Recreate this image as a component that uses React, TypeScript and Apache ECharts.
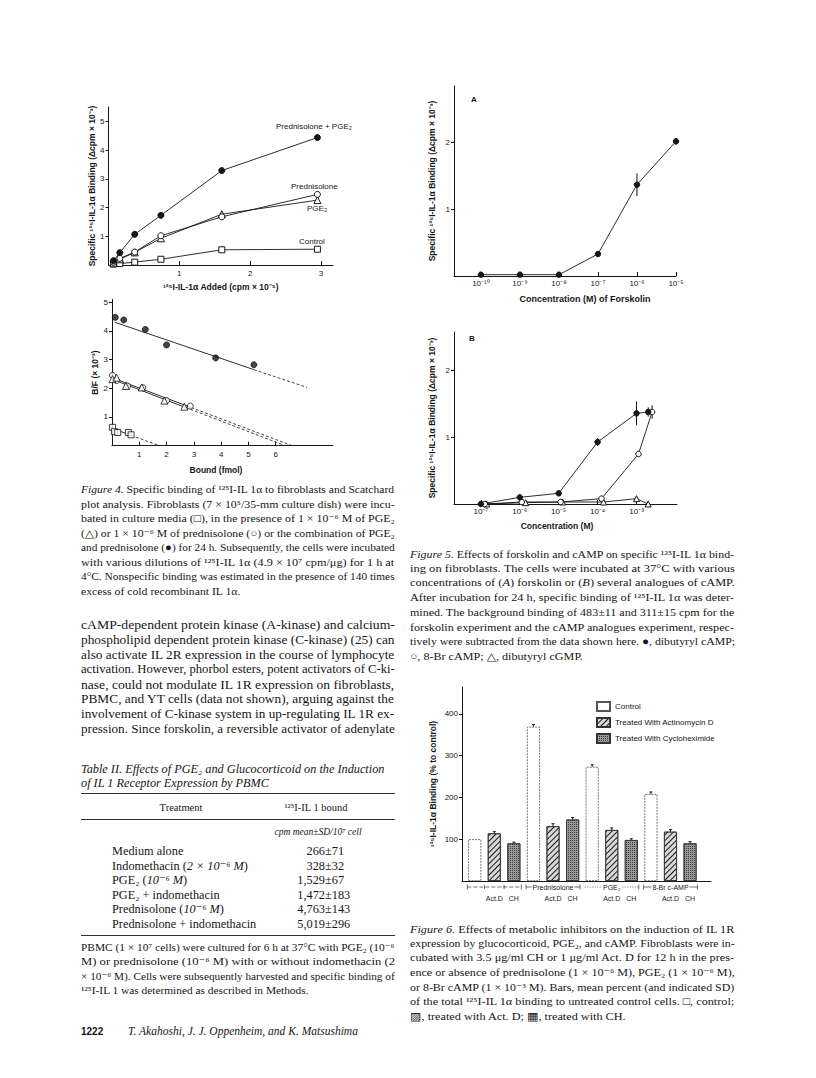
import React, { useEffect, useRef } from 'react';
import * as echarts from 'echarts';

// ---------------- DATA ----------------
// Figure 4 (top): specific binding vs 125I-IL-1a added (cpm x 10^-5)
const fig4Added = [0.07, 0.16, 0.37, 0.74, 1.6, 2.95];
const fig4PredPGE = [0.15, 0.43, 1.07, 1.73, 3.29, 4.44];
const fig4Pred = [0.1, 0.23, 0.45, 1.02, 1.68, 2.46];
const fig4PGE = [0.08, 0.2, 0.44, 0.93, 1.77, 2.26];
const fig4Control = [0.03, 0.05, 0.1, 0.2, 0.53, 0.55];
const fig4XTicks = [1, 2, 3];
const fig4YTicks = [1, 2, 3, 4, 5];

// Figure 4 (bottom): Scatchard plot
const scBoundFilled = [0.12, 0.43, 1.22, 2.0, 3.8, 5.2];
const scBFFilled = [4.47, 4.38, 4.05, 3.51, 3.06, 2.82];
const scBoundCircle = [0.02, 0.17, 0.57, 1.13, 2.0, 2.87];
const scBFCircle = [2.45, 2.27, 2.08, 2.02, 1.57, 1.38];
const scBoundTri = [0.02, 0.17, 0.51, 1.09, 1.92, 2.65];
const scBFTri = [2.32, 2.37, 2.08, 2.03, 1.57, 1.36];
const scBoundSq = [0.02, 0.09, 0.21, 0.6, 0.7];
const scBFSq = [0.64, 0.49, 0.46, 0.46, 0.38];
// fitted lines: [start, end of solid part, end of dashed extrapolation]
const scFitFilled = [[0.1, 4.3], [5.2, 2.65], [7.15, 2.03]];
const scFitCircle = [[0.05, 2.35], [2.9, 1.33], [6.6, 0]];
const scFitTri = [[0.05, 2.3], [2.7, 1.33], [6.35, 0]];
const scFitSq = [[0.02, 0.6], [0.7, 0.36], [1.73, 0]];
const scXTicks = [1, 2, 3, 4, 5, 6];
const scYTicks = [1, 2, 3, 4, 5];

// Figure 5A: forskolin (log10 concentration)
const forsExp = [-10, -9, -8, -7, -6, -5];
const forsVal = [0.02, 0.02, 0.02, 0.33, 1.37, 2.02];
const forsErr = [0, 0, 0, 0.02, 0.17, 0.05];
const fig5ATicks = [-10, -9, -8, -7, -6, -5];

// Figure 5B: cAMP analogues (log10 concentration)
const dbcAMPExp = [-7, -6, -5, -4, -3, -2.7];
const dbcAMPVal = [0.0, 0.1, 0.16, 0.93, 1.36, 1.38];
const dbcAMPErr = [0, 0.03, 0.04, 0.06, 0.18, 0.07];
const brcAMPExp = [-6.9, -5.95, -4.95, -3.9, -2.95, -2.6];
const brcAMPVal = [0.0, 0.03, 0.03, 0.08, 0.75, 1.38];
const brcAMPErr = [0, 0, 0, 0.02, 0, 0.1];
const dbcGMPExp = [-6.85, -5.85, -4.9, -3.85, -3.0, -2.7];
const dbcGMPVal = [0.0, 0.02, 0.03, 0.03, 0.08, 0.0];
const dbcGMPErr = [0, 0, 0, 0, 0.04, 0];
const fig5BTicks = [-7, -6, -5, -4, -3];
const fig5YTicks = [1, 2];

// Figure 6: % binding to control
const fig6Groups = ['', 'Prednisolone', 'PGE\u2082', '8-Br c-AMP'];
const fig6Control = [100, 369, 273, 208];
const fig6ActD = [114, 131, 122, 118];
const fig6CH = [90, 147, 98, 90];
const fig6ControlErr = [0, 5, 5, 5];
const fig6ActDErr = [4, 6, 5, 5];
const fig6CHErr = [3, 5, 3, 4];
const fig6SubLabels = ['', 'Act.D', 'CH'];
const fig6YTicks = [100, 200, 300, 400];
const fig6Legend = ['Control', 'Treated With Actinomycin D', 'Treated With Cycloheximide'];

// Table II
const tableRows = [
  'Medium alone',
  'Indomethacin ({i|2 \u00d7 10\u207b\u2076 M})',
  'PGE\u2082 ({i|10\u207b\u2076 M})',
  'PGE\u2082 + indomethacin',
  'Prednisolone ({i|10\u207b\u2076 M})',
  'Prednisolone + indomethacin',
];
const tableMeans = ['266', '328', '1,529', '1,472', '4,763', '5,019'];
const tableSDs = ['71', '32', '67', '183', '143', '296'];

// Texts
const fig4Caption = [
  '{i|Figure 4.} Specific binding of \u00b9\u00b2\u2075I-IL 1\u03b1 to fibroblasts and Scatchard',
  'plot analysis. Fibroblasts (7 \u00d7 10\u2075/35-mm culture dish) were incu-',
  'bated in culture media (\u25a1), in the presence of 1 \u00d7 10\u207b\u2076 M of PGE\u2082',
  '(\u25b3) or 1 \u00d7 10\u207b\u2076 M of prednisolone (\u25cb) or the combination of PGE\u2082',
  'and prednisolone (\u25cf) for 24 h. Subsequently, the cells were incubated',
  'with various dilutions of \u00b9\u00b2\u2075I-IL 1\u03b1 (4.9 \u00d7 10\u2077 cpm/\u03bcg) for 1 h at',
  '4\u00b0C. Nonspecific binding was estimated in the presence of 140 times',
  'excess of cold recombinant IL 1\u03b1.',
];
const bodyText = [
  'cAMP-dependent protein kinase (A-kinase) and calcium-',
  'phospholipid dependent protein kinase (C-kinase) (25) can',
  'also activate IL 2R expression in the course of lymphocyte',
  'activation. However, phorbol esters, potent activators of C-ki-',
  'nase, could not modulate IL 1R expression on fibroblasts,',
  'PBMC, and YT cells (data not shown), arguing against the',
  'involvement of C-kinase system in up-regulating IL 1R ex-',
  'pression. Since forskolin, a reversible activator of adenylate',
];
const tableTitle = [
  'Table II. Effects of PGE\u2082 and Glucocorticoid on the Induction',
  'of IL 1 Receptor Expression by PBMC',
];
const tableFootnote = [
  'PBMC (1 \u00d7 10\u2077 cells) were cultured for 6 h at 37\u00b0C with PGE\u2082 (10\u207b\u2076',
  'M) or prednisolone (10\u207b\u2076 M) with or without indomethacin (2',
  '\u00d7 10\u207b\u2076 M). Cells were subsequently harvested and specific binding of',
  '\u00b9\u00b2\u2075I-IL 1 was determined as described in Methods.',
];
const fig5Caption = [
  '{i|Figure 5.} Effects of forskolin and cAMP on specific \u00b9\u00b2\u2075I-IL 1\u03b1 bind-',
  'ing on fibroblasts. The cells were incubated at 37\u00b0C with various',
  'concentrations of ({i|A}) forskolin or ({i|B}) several analogues of cAMP.',
  'After incubation for 24 h, specific binding of \u00b9\u00b2\u2075I-IL 1\u03b1 was deter-',
  'mined. The background binding of 483\u00b111 and 311\u00b115 cpm for the',
  'forskolin experiment and the cAMP analogues experiment, respec-',
  'tively were subtracted from the data shown here. \u25cf, dibutyryl cAMP;',
  '\u25cb, 8-Br cAMP; \u25b3, dibutyryl cGMP.',
];
const fig6Caption = [
  '{i|Figure 6.} Effects of metabolic inhibitors on the induction of IL 1R',
  'expression by glucocorticoid, PGE\u2082, and cAMP. Fibroblasts were in-',
  'cubated with 3.5 \u03bcg/ml CH or 1 \u03bcg/ml Act. D for 12 h in the pres-',
  'ence or absence of prednisolone (1 \u00d7 10\u207b\u2076 M), PGE\u2082 (1 \u00d7 10\u207b\u2076 M),',
  'or 8-Br cAMP (1 \u00d7 10\u207b\u00b3 M). Bars, mean percent (and indicated SD)',
  'of the total \u00b9\u00b2\u2075I-IL 1\u03b1 binding to untreated control cells. \u25a1, control;',
  '\u25a8, treated with Act. D; \u25a6, treated with CH.',
];

// ---------------- HELPERS ----------------
const SERIF = "'Liberation Serif', 'Times New Roman', 'DejaVu Serif', serif";
const SANS = "'Liberation Sans', Arial, Helvetica, sans-serif";
const INK = '#161616';

let ctx: CanvasRenderingContext2D | null = null;
function measure(text: string, font: string): number {
  if (!ctx) ctx = document.createElement('canvas').getContext('2d');
  if (!ctx) return text.length * 5;
  ctx.font = font;
  return ctx.measureText(text).width;
}
function parseSegs(s: string) {
  const segs: { k: string; t: string }[] = [];
  const re = /\{(\w+)\|([^}]*)\}/g;
  let last = 0;
  let m: RegExpExecArray | null;
  while ((m = re.exec(s))) {
    if (m.index > last) segs.push({ k: '', t: s.slice(last, m.index) });
    segs.push({ k: m[1], t: m[2] });
    last = re.lastIndex;
  }
  if (last < s.length) segs.push({ k: '', t: s.slice(last) });
  return segs;
}
function textWidth(s: string, size: number, family: string, italic = false) {
  return parseSegs(s).reduce(
    (w, g) => w + measure(g.t, `${g.k === 'i' || italic ? 'italic ' : ''}${g.k === 'b' ? 'bold ' : ''}${size}px ${family}`),
    0
  );
}
function textEl(s: string, x: number, y: number, o: any) {
  const fill = o.fill || INK;
  return {
    type: 'text',
    x,
    y,
    scaleX: o.scaleX ?? 1,
    silent: true,
    style: {
      text: s,
      fontSize: o.size,
      fontFamily: o.family,
      fontStyle: o.italic ? 'italic' : 'normal',
      fontWeight: o.bold ? 'bold' : 'normal',
      fill,
      align: o.align || 'left',
      verticalAlign: 'middle',
      rich: {
        i: { fontStyle: 'italic', fontSize: o.size, fontFamily: o.family, fill },
        b: { fontWeight: 'bold', fontSize: o.size, fontFamily: o.family, fill },
      },
    },
  };
}
function paragraph(lines: string[], x: number, y0: number, lh: number, width: number, size: number, family: string, justifyLast: boolean, italic = false) {
  const scales = lines.map((l) => width / textWidth(l, size, family, italic));
  const clamp = (v: number) => Math.max(0.8, Math.min(1.25, v));
  const ref = (justifyLast ? scales : scales.slice(0, -1)).slice().sort((a, b) => a - b);
  const med = ref.length ? clamp(ref[Math.floor(ref.length / 2)]) : 1;
  return lines.map((l, i) =>
    textEl(l, x, y0 + i * lh, {
      size,
      family,
      italic,
      scaleX: i < lines.length - 1 || justifyLast ? clamp(scales[i]) : med,
    })
  );
}
const SUP: Record<string, string> = { '-': '\u207b', '0': '\u2070', '1': '\u00b9', '2': '\u00b2', '3': '\u00b3', '4': '\u2074', '5': '\u2075', '6': '\u2076', '7': '\u2077', '8': '\u2078', '9': '\u2079' };
const pow10 = (v: number) => '10' + String(v).split('').map((c) => SUP[c] || c).join('');
const pts = (xs: number[], ys: number[]) => xs.map((x, i) => [x, ys[i]]);

const filled = { color: INK, borderColor: INK, borderWidth: 1 };
const open = { color: '#fff', borderColor: INK, borderWidth: 1 };

function axisCommon(idx: number, ticks: number[], inside: boolean, fmt?: (v: number) => string, margin = 4, namePad: number[] = [0, 0, 0, 0], nameSize = 8.5) {
  return {
    gridIndex: idx,
    type: 'value',
    splitLine: { show: false },
    axisLine: { onZero: false, lineStyle: { color: INK, width: 1 } },
    axisTick: { inside, length: inside ? 4 : 3, customValues: ticks, lineStyle: { color: INK, width: 1 } },
    axisLabel: { customValues: ticks, color: INK, fontSize: 8, fontFamily: SANS, margin, formatter: fmt || ((v: number) => String(v)) },
    nameTextStyle: { color: INK, fontSize: nameSize, fontWeight: 'bold', fontFamily: SANS, padding: namePad },
    nameLocation: 'middle',
  };
}
function lineS(idx: number, data: number[][], symbol: string, size: number, itemStyle: any, extra: any = {}) {
  return { type: 'line', xAxisIndex: idx, yAxisIndex: idx, data, symbol, symbolSize: size, showSymbol: true, itemStyle, lineStyle: { color: INK, width: 0.9 }, z: 3, silent: true, animation: false, ...extra };
}
function scatterS(idx: number, data: number[][], symbol: string, size: number, itemStyle: any) {
  return { type: 'scatter', xAxisIndex: idx, yAxisIndex: idx, data, symbol, symbolSize: size, itemStyle, z: 4, silent: true };
}
function fitS(idx: number, fit: number[][]) {
  return [
    { type: 'line', xAxisIndex: idx, yAxisIndex: idx, data: [fit[0], fit[1]], symbol: 'none', lineStyle: { color: INK, width: 0.9 }, silent: true, z: 2 },
    { type: 'line', xAxisIndex: idx, yAxisIndex: idx, data: [fit[1], fit[2]], symbol: 'none', lineStyle: { color: INK, width: 0.8, type: [3, 2] }, silent: true, z: 2 },
  ];
}
function errS(idx: number, xs: number[], ys: number[], es: number[], barMode = false) {
  return {
    type: 'custom',
    xAxisIndex: idx,
    yAxisIndex: idx,
    clip: false,
    silent: true,
    z: barMode ? 5 : 2,
    data: xs.map((x, i) => [x, ys[i], es[i]]).filter((d) => d[2] > 0),
    renderItem: (_p: any, api: any) => {
      const x = api.value(0), y = api.value(1), e = api.value(2);
      const a = api.coord([x, y + e]);
      const b = api.coord([x, barMode ? y : y - e]);
      const children: any[] = [{ type: 'line', shape: { x1: a[0], y1: a[1], x2: b[0], y2: b[1] }, style: { stroke: INK, lineWidth: 1 } }];
      if (barMode) children.push({ type: 'line', shape: { x1: a[0] - 1.5, y1: a[1], x2: a[0] + 1.5, y2: a[1] }, style: { stroke: INK, lineWidth: 1 } });
      return { type: 'group', children };
    },
  };
}

function buildOption() {
  const graphic: any[] = [];
  // Figure 4 curve labels
  graphic.push(textEl('Prednisolone + PGE\u2082', 276, 126, { size: 8, family: SANS }));
  graphic.push(textEl('Prednisolone', 291, 186, { size: 8, family: SANS }));
  graphic.push(textEl('PGE\u2082', 307, 208, { size: 8, family: SANS }));
  graphic.push(textEl('Control', 299, 241, { size: 8, family: SANS }));
  // panel letters
  graphic.push(textEl('A', 471, 99, { size: 8, family: SANS, bold: true }));
  graphic.push(textEl('B', 469, 338, { size: 8, family: SANS, bold: true }));

  // Left column text
  graphic.push(...paragraph(fig4Caption, 81, 489.3, 14.5, 314, 10.8, SERIF, false));
  graphic.push(...paragraph(bodyText, 81, 625, 14.8, 314, 12.5, SERIF, true));
  graphic.push(...paragraph(tableTitle, 81, 769.3, 14, 304, 11.5, SERIF, false, true));
  // table rules
  const rule = (y: number, w = 1) => ({ type: 'line', silent: true, shape: { x1: 81, y1: y, x2: 395, y2: y }, style: { stroke: '#333', lineWidth: w } });
  graphic.push(rule(793.5, 1.2), rule(819.5, 1), rule(935.5, 1));
  graphic.push(textEl('Treatment', 181, 807, { size: 10.5, family: SERIF, align: 'center' }));
  graphic.push(textEl('\u00b9\u00b2\u2075I-IL 1 bound', 316, 807, { size: 10.5, family: SERIF, align: 'center' }));
  graphic.push(textEl('cpm mean\u00b1SD/10\u2077 cell', 318, 832, { size: 9.5, family: SERIF, italic: true, align: 'center' }));
  tableRows.forEach((r, i) => {
    const y = 851 + i * 14.5;
    graphic.push(textEl(r, 112, y, { size: 12.3, family: SERIF }));
    const s = `${tableMeans[i]}\u00b1${tableSDs[i]}`;
    const wMean = measure(tableMeans[i], `12.3px ${SERIF}`);
    graphic.push(textEl(s, 325 - wMean, y, { size: 12.3, family: SERIF }));
  });
  graphic.push(...paragraph(tableFootnote, 81, 947, 14.3, 314, 10.8, SERIF, false));
  // footer
  graphic.push(textEl('1222', 81, 1031, { size: 10, family: SANS, bold: true }));
  graphic.push(textEl('T. Akahoshi, J. J. Oppenheim, and K. Matsushima', 128, 1031, { size: 11.5, family: SERIF, italic: true }));

  // Right column captions
  graphic.push(...paragraph(fig5Caption, 410, 554, 14.6, 325, 10.8, SERIF, false));
  graphic.push(...paragraph(fig6Caption, 410, 929, 14.5, 325, 10.8, SERIF, false));

  const hatch = { symbol: 'rect', symbolSize: 1, symbolKeepAspect: false, color: '#1a1a1a', dashArrayX: [1, 0], dashArrayY: [1, 2.2], rotation: -Math.PI / 4 };
  const stipple = { symbol: 'rect', symbolSize: 1, symbolKeepAspect: false, color: '#3a3a3a', dashArrayX: [1, 1], dashArrayY: [1, 1], rotation: 0 };

  const grp = (vals: number[], k: number) => vals.map((v, g) => [g * 3 + k, v]);
  const xs6 = (k: number) => fig6Control.map((_, g) => g * 3 + k);

  const series: any[] = [
    // Fig 4 top
    lineS(0, pts(fig4Added, fig4Control), 'rect', 6, open),
    lineS(0, pts(fig4Added, fig4PGE), 'triangle', 7, open),
    lineS(0, pts(fig4Added, fig4Pred), 'circle', 6, open),
    lineS(0, pts(fig4Added, fig4PredPGE), 'circle', 6, filled),
    // Scatchard
    ...fitS(1, scFitFilled),
    ...fitS(1, scFitCircle),
    ...fitS(1, scFitTri),
    ...fitS(1, scFitSq),
    scatterS(1, pts(scBoundFilled, scBFFilled), 'circle', 6, filled),
    scatterS(1, pts(scBoundCircle, scBFCircle), 'circle', 6, open),
    scatterS(1, pts(scBoundTri, scBFTri), 'triangle', 7, open),
    scatterS(1, pts(scBoundSq, scBFSq), 'rect', 6, open),
    // Fig 5A
    errS(2, forsExp, forsVal, forsErr),
    lineS(2, pts(forsExp, forsVal), 'circle', 5.5, filled),
    // Fig 5B
    errS(3, dbcGMPExp, dbcGMPVal, dbcGMPErr),
    errS(3, brcAMPExp, brcAMPVal, brcAMPErr),
    errS(3, dbcAMPExp, dbcAMPVal, dbcAMPErr),
    lineS(3, pts(dbcGMPExp, dbcGMPVal), 'triangle', 6, open),
    lineS(3, pts(brcAMPExp, brcAMPVal), 'circle', 5.5, open),
    lineS(3, pts(dbcAMPExp, dbcAMPVal), 'circle', 5.5, filled),
    // Fig 6 bars
    {
      name: fig6Legend[0], type: 'bar', xAxisIndex: 4, yAxisIndex: 4, barWidth: 13, barGap: '-100%', silent: true,
      data: grp(fig6Control, 0),
      itemStyle: { color: '#fff', borderColor: '#555', borderWidth: 0.8, borderType: [2, 1] },
    },
    {
      name: fig6Legend[1], type: 'bar', xAxisIndex: 4, yAxisIndex: 4, barWidth: 13, barGap: '-100%', silent: true,
      data: grp(fig6ActD, 1),
      itemStyle: { color: '#d8d8d8', borderColor: '#333', borderWidth: 0.8, decal: hatch },
    },
    {
      name: fig6Legend[2], type: 'bar', xAxisIndex: 4, yAxisIndex: 4, barWidth: 13, barGap: '-100%', silent: true,
      data: grp(fig6CH, 2),
      itemStyle: { color: '#9a9a9a', borderColor: '#333', borderWidth: 0.8, decal: stipple },
    },
    errS(4, xs6(0), fig6Control, fig6ControlErr, true),
    errS(4, xs6(1), fig6ActD, fig6ActDErr, true),
    errS(4, xs6(2), fig6CH, fig6CHErr, true),
    // group brackets
    {
      type: 'custom', xAxisIndex: 4, yAxisIndex: 4, clip: false, silent: true, z: 5,
      data: fig6Groups.map((_, g) => [g * 3, g * 3 + 2, g]),
      renderItem: (_p: any, api: any) => {
        const s = api.value(0), e = api.value(1), gi = api.value(2);
        const p0 = api.coord([s - 0.38, 0]);
        const p1 = api.coord([e + 0.38, 0]);
        const y = p0[1] + 6;
        const mid = (p0[0] + p1[0]) / 2;
        const st = { stroke: '#333', lineWidth: 0.7 };
        const children: any[] = [
          { type: 'line', shape: { x1: p0[0], y1: y, x2: p1[0], y2: y }, style: { ...st, lineDash: gi === 0 ? [4, 2] : gi === 2 ? [1, 1.5] : null } },
          { type: 'line', shape: { x1: p1[0], y1: y - 2.5, x2: p1[0], y2: y + 2.5 }, style: st },
        ];
        if (gi !== 2) children.push({ type: 'line', shape: { x1: p0[0], y1: y - 2.5, x2: p0[0], y2: y + 2.5 }, style: st });
        if (gi === 0) {
          [0.5, 1.5].forEach((o) => {
            const q = api.coord([s + o, 0]);
            children.push({ type: 'line', shape: { x1: q[0], y1: y - 2, x2: q[0], y2: y + 2 }, style: st });
          });
        }
        const label = fig6Groups[gi];
        if (label) children.push({ type: 'text', x: mid, y, style: { text: label, fontSize: 7, fontFamily: SANS, fill: '#222', align: 'center', verticalAlign: 'middle', backgroundColor: '#fff', padding: [0, 1] } });
        return { type: 'group', children };
      },
    },
    // sub labels Act.D / CH
    {
      type: 'custom', xAxisIndex: 4, yAxisIndex: 4, clip: false, silent: true, z: 5,
      data: fig6Groups.flatMap((_, g) => [1, 2].map((k) => [g * 3 + k, k])),
      renderItem: (_p: any, api: any) => {
        const x = api.value(0), k = api.value(1);
        const p = api.coord([x, 0]);
        return { type: 'text', x: p[0], y: p[1] + 17, style: { text: fig6SubLabels[k], fontSize: 7, fontFamily: SANS, fill: '#222', align: 'center', verticalAlign: 'middle' } };
      },
    },
  ];

  return {
    animation: false,
    backgroundColor: '#fff',
    textStyle: { fontFamily: SANS },
    grid: [
      { left: 108.5, top: 107, width: 224.5, height: 158, outerBoundsMode: 'none' },
      { left: 112, top: 299.3, width: 221, height: 146.4, outerBoundsMode: 'none' },
      { left: 454, top: 86, width: 222, height: 190, outerBoundsMode: 'none' },
      { left: 454, top: 332, width: 223, height: 172, outerBoundsMode: 'none' },
      { left: 462, top: 687, width: 249, height: 194, outerBoundsMode: 'none' },
    ],
    xAxis: [
      { ...axisCommon(0, fig4XTicks, true, undefined, 4), min: 0, max: 3.17, name: '\u00b9\u00b2\u2075I-IL-1\u03b1 Added (cpm \u00d7 10\u207b\u2075)', nameGap: 17 },
      { ...axisCommon(1, scXTicks, true, undefined, 5, [0, 13, 0, 0]), min: 0, max: 8.1, name: 'Bound (fmol)', nameGap: 20 },
      { ...axisCommon(2, fig5ATicks, true, pow10, 3, [0, 0, 0, 40], 9), min: -10.69, max: -5, name: 'Concentration (M) of Forskolin', nameGap: 18 },
      { ...axisCommon(3, fig5BTicks, true, pow10, 3, [0, 17, 0, 0]), min: -7.69, max: -1.96, name: 'Concentration (M)', nameGap: 17 },
      { ...axisCommon(4, [], true), min: -0.65, max: 12.07, axisTick: { show: false }, axisLabel: { show: false } },
    ],
    yAxis: [
      { ...axisCommon(0, fig4YTicks, false, undefined, 4), min: 0, max: 5.505, name: 'Specific \u00b9\u00b2\u2075I-IL-1\u03b1 Binding (\u0394cpm \u00d7 10\u207b\u00b3)', nameGap: 12, nameRotate: 90 },
      { ...axisCommon(1, scYTicks, false, undefined, 4), min: 0, max: 5.1, name: 'B/F (\u00d7 10\u207b\u00b2)', nameGap: 13, nameRotate: 90 },
      { ...axisCommon(2, fig5YTicks, false, undefined, 4), min: 0, max: 2.85, name: 'Specific \u00b9\u00b2\u2075I-IL-1\u03b1 Binding (\u0394cpm \u00d7 10\u207b\u00b3)', nameGap: 18, nameRotate: 90 },
      { ...axisCommon(3, fig5YTicks, false, undefined, 4), min: 0, max: 2.58, name: 'Specific \u00b9\u00b2\u2075I-IL-1\u03b1 Binding (\u0394cpm \u00d7 10\u207b\u00b3)', nameGap: 18, nameRotate: 90 },
      { ...axisCommon(4, fig6YTicks, false, undefined, 4), min: 0, max: 464, name: '\u00b9\u00b2\u2075I-IL-1\u03b1 Binding (% to control)', nameGap: 25, nameRotate: 90 },
    ],
    legend: {
      orient: 'vertical', left: 596, top: 701, itemWidth: 13, itemHeight: 9, itemGap: 5, selectedMode: false, padding: 0,
      icon: 'rect',
      textStyle: { fontSize: 8, fontFamily: SANS, color: INK },
      data: fig6Legend,
    },
    series,
    graphic,
  };
}

export default function App() {
  const ref = useRef<HTMLDivElement>(null);
  useEffect(() => {
    document.body.style.margin = '0';
    const chart = echarts.init(ref.current!, null, { renderer: 'svg' });
    chart.setOption(buildOption() as any);
    return () => chart.dispose();
  }, []);
  return <div ref={ref} style={{ width: 816, height: 1078, background: '#fff' }} />;
}
